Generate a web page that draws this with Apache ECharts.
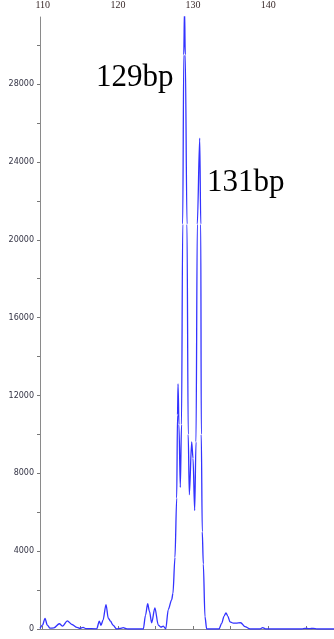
<!DOCTYPE html>
<html><head><meta charset="utf-8">
<script src="https://cdn.jsdelivr.net/npm/echarts@6/dist/echarts.min.js"></script>
<style>html,body{margin:0;padding:0;background:#fff}#c{width:334px;height:639px}</style>
</head><body><div id="c"></div>
<script>
// fragment size (bp) and signal intensity
const bpValues = [109.64,109.97,110.31,110.61,110.97,111.50,112.21,112.66,113.27,113.89,114.56,114.96,115.36,115.76,117.18,117.53,117.75,118.02,118.42,118.72,119.02,119.35,119.84,120.28,120.72,121.08,121.34,123.38,123.67,123.96,124.20,124.49,124.92,125.37,125.73,126.04,126.36,126.70,127.15,127.32,127.59,127.82,127.93,128.00,128.12,128.30,128.46,128.62,128.76,128.86,128.96,129.19,129.35,129.50,129.81,129.99,130.21,130.39,130.56,130.88,131.02,131.09,131.22,131.36,131.58,131.81,133.44,133.80,134.11,134.37,134.63,134.91,135.35,135.70,136.33,136.90,137.57,138.90,139.26,139.69,144.48,144.88,145.45,145.98,146.48,148.74];
const signal   = [30,200,545,200,40,60,270,150,420,230,80,30,80,20,10,400,190,450,1255,560,400,200,0,30,70,20,0,0,700,1300,900,320,1085,200,100,150,0,1000,1500,1830,3680,6730,11000,12590,10500,7280,10500,20800,29500,31900,29500,20800,10000,6900,9620,8770,6090,9620,20800,25230,20800,10000,5000,3340,630,0,0,290,650,830,650,370,300,300,320,120,0,0,70,0,0,35,15,35,0,0];
const xTickValues = [110,115,120,125,130,135,140,145];
const xLabelValues = [110,120,130,140];
const yTickValues = [0,2000,4000,6000,8000,10000,12000,14000,16000,18000,20000,22000,24000,26000,28000,30000];
const yLabelValues = [0,4000,8000,12000,16000,20000,24000,28000];
const peakLabels = ['129bp','131bp'];

const chart = echarts.init(document.getElementById('c'), null, {renderer:'canvas'});
chart.setOption({
  animation:false,
  grid:{left:40,right:0,top:11,bottom:10,containLabel:false},
  xAxis:{type:'value',position:'top',min:109.64,max:148.74,
    axisLine:{show:true,lineStyle:{color:'#8a8a8a',width:1}},
    axisTick:{show:true,length:3,customValues:xTickValues,lineStyle:{color:'#777'}},
    axisLabel:{customValues:xLabelValues,margin:7,fontFamily:'Liberation Serif',fontSize:10,color:'#3a2a2a',formatter:v=>String(v)},
    splitLine:{show:false}},
  yAxis:{type:'value',min:0,max:31450,
    axisLine:{show:true,lineStyle:{color:'#8a8a8a',width:1}},
    axisTick:{show:true,length:3,customValues:yTickValues,lineStyle:{color:'#777'}},
    axisLabel:{customValues:yLabelValues,margin:6,fontFamily:'DejaVu Sans',fontSize:8,color:'#333344',formatter:v=>String(v)},
    splitLine:{show:false}},
  series:[{type:'line',data:bpValues.map((x,i)=>[x,signal[i]]),showSymbol:false,
    smooth:0.3,smoothMonotone:'x',clip:true,
    lineStyle:{color:'#3333ff',width:1.3}}],
  graphic:[
    {type:'text',left:96,top:62,style:{text:peakLabels[0],font:'31px "Liberation Serif"',fill:'#000'}},
    {type:'text',left:207,top:167,style:{text:peakLabels[1],font:'31px "Liberation Serif"',fill:'#000'}}
  ]
});
</script></body></html>
